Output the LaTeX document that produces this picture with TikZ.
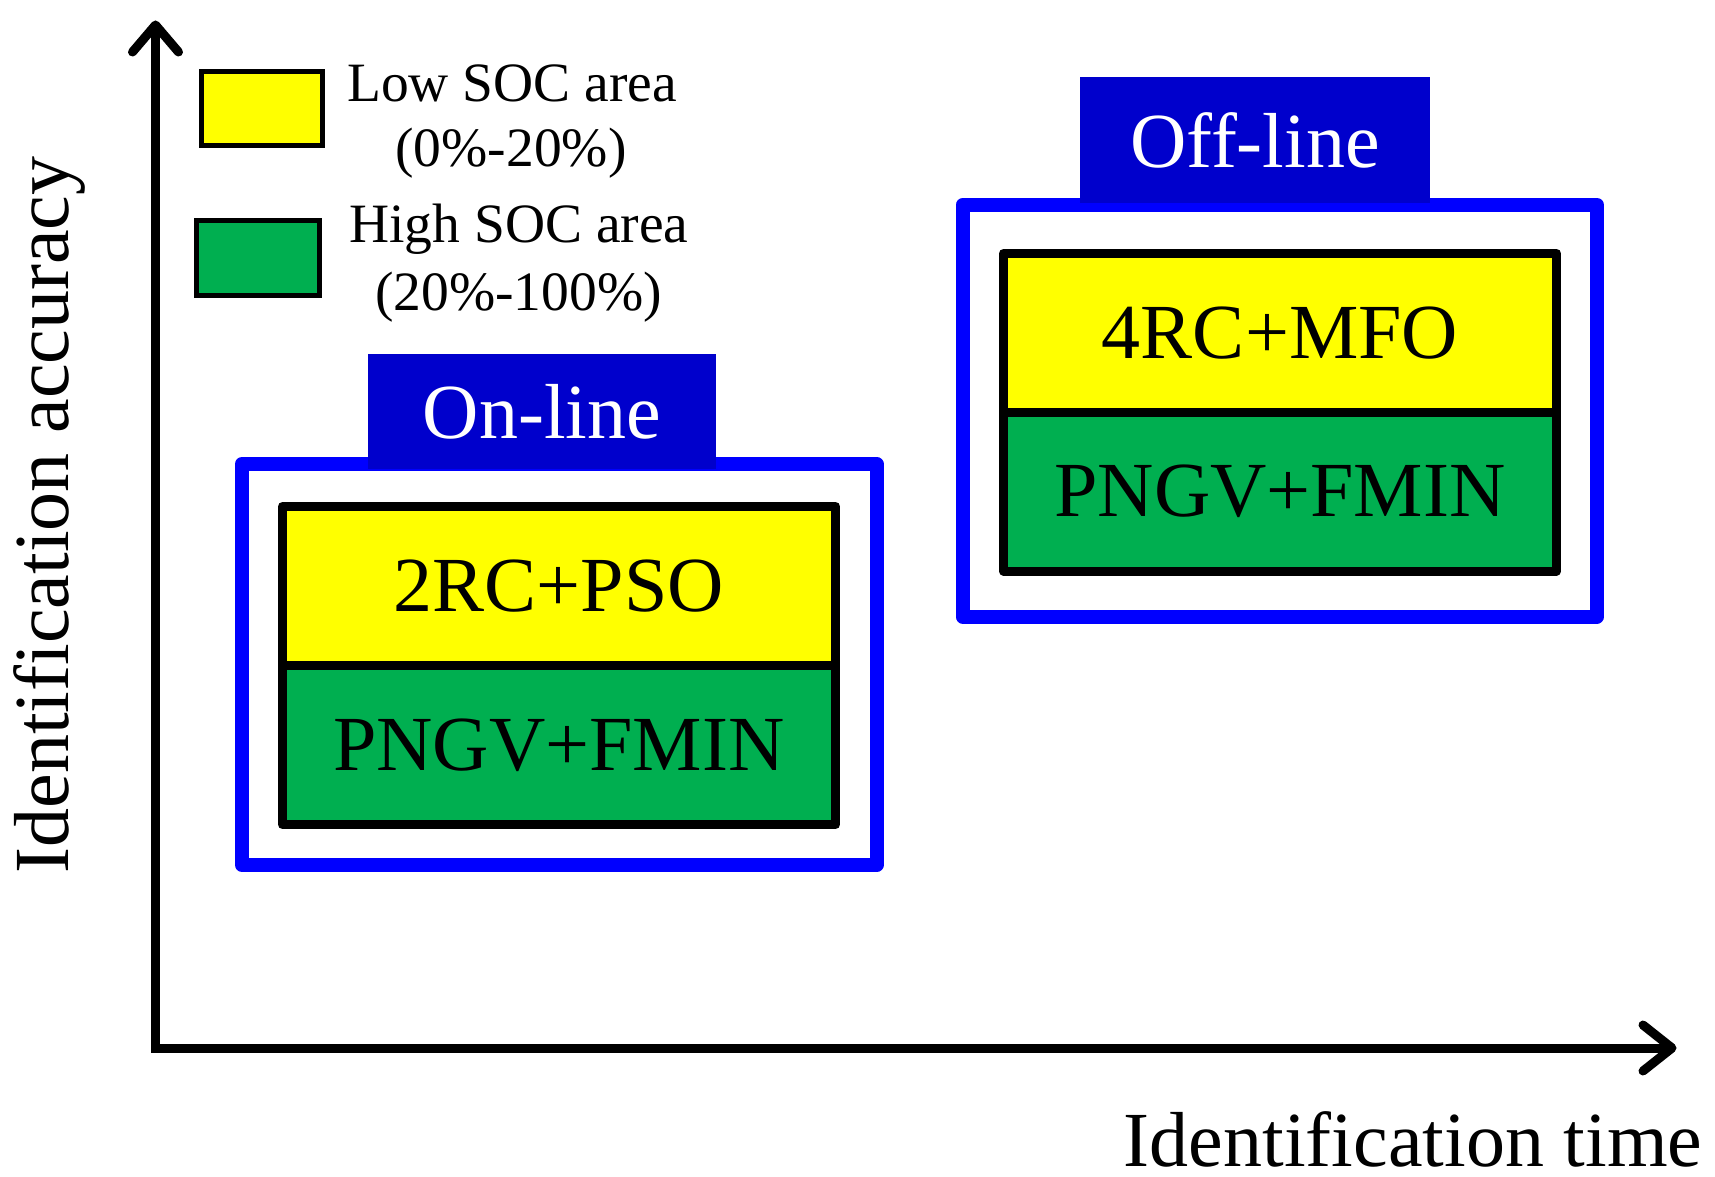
\documentclass[tikz,border=0pt]{standalone}
\usepackage{fontspec}
\setmainfont{Liberation Serif}
\definecolor{yel}{HTML}{FFFF00}
\definecolor{grn}{HTML}{00AF50}
\definecolor{tabblue}{HTML}{0000CC}
\definecolor{lineblue}{HTML}{0000FF}
\begin{document}
\begin{tikzpicture}[x=1pt,y=-1pt,
  bigtxt/.style={font=\fontsize{78}{94}\selectfont},
  legtxt/.style={font=\fontsize{55.5}{65}\selectfont},
  axis/.style={line width=9pt,black},
  chev/.style={line width=9pt,black,line cap=round,line join=round},
  frame/.style={draw=lineblue,line width=14pt,line join=round,fill=white,inner sep=0pt,outer sep=0pt},
  tabbox/.style={fill=tabblue,text=white,inner sep=0pt,outer sep=0pt,bigtxt},
  cell/.style={draw=black,line width=9pt,line join=round,inner sep=0pt,outer sep=0pt,bigtxt,minimum width=553pt,minimum height=159pt},
  legbox/.style={draw=black,line width=5pt,inner sep=0pt,outer sep=0pt},
]
\useasboundingbox (0,0) rectangle (1715,1177);
% axes
\coordinate (O) at (155.5,1048);
\coordinate (ytip) at (155.5,25);
\coordinate (xtip) at (1672,1048);
\draw[axis] (ytip) -- (O) -- (xtip);
\draw[chev] ([xshift=-23pt,yshift=-27pt]ytip) -- (ytip) -- ([xshift=23pt,yshift=-27pt]ytip);
\draw[chev] ([xshift=-29pt,yshift=23pt]xtip) -- (xtip) -- ([xshift=-29pt,yshift=-23pt]xtip);
\node[bigtxt,rotate=90,anchor=base,inner sep=0pt] (ylab) at (68,515) {Identification accuracy};
\node[bigtxt,anchor=base,inner sep=0pt] (xlab) at (1413,1166) {Identification time};
% legend
\node[legbox,fill=yel,minimum width=121pt,minimum height=74pt] (lowbox) at (262,109) {};
\node[legbox,fill=grn,minimum width=122.5pt,minimum height=75pt] (highbox) at (257.75,257.5) {};
\node[legtxt,anchor=base] (low1) at (512,102) {Low SOC area};
\node[legtxt,anchor=base] (low2) at (511,167) {(0\%-20\%)};
\node[legtxt,anchor=base] (high1) at (519,242) {High SOC area};
\node[legtxt,anchor=base] (high2) at (518.5,310) {(20\%-100\%)};
% on-line
\node[frame,minimum width=634.5pt,minimum height=401pt] (onframe) at (559.25,664.5) {};
\node[tabbox,minimum width=348pt,minimum height=115pt] (ontab) at (542,411.5) {On-line};
\node[cell,fill=yel] (onlow) at (559,586) {2RC+PSO};
\node[cell,fill=grn] (onhigh) at (559,745) {PNGV+FMIN};
% off-line
\node[frame,minimum width=634.5pt,minimum height=411.5pt] (offframe) at (1279.75,410.75) {};
\node[tabbox,minimum width=350pt,minimum height=126pt] (offtab) at (1255,140) {Off-line};
\node[cell,fill=yel] (offlow) at (1280,333) {4RC+MFO};
\node[cell,fill=grn,minimum height=158.5pt] (offhigh) at (1280,491.75) {PNGV+FMIN};
\end{tikzpicture}
\end{document}
